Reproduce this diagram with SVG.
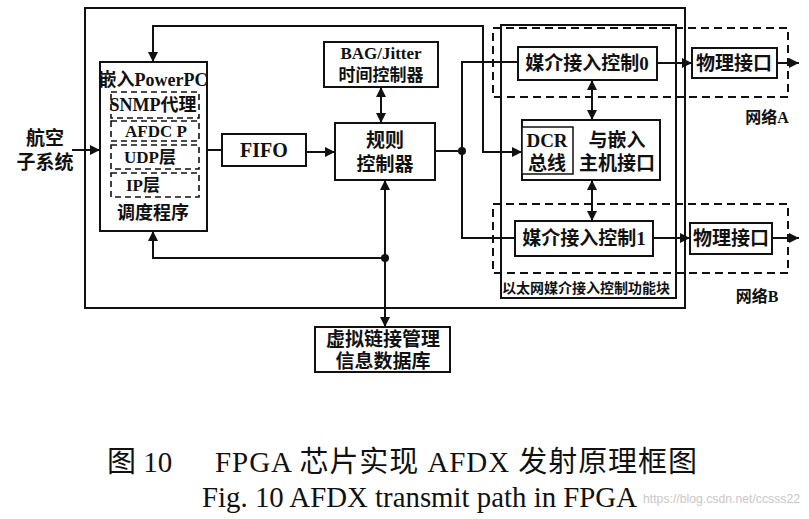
<svg xmlns="http://www.w3.org/2000/svg" width="809" height="519" viewBox="0 0 809 519">
<style>
.box{fill:#fff;stroke:#111;stroke-width:2}
.frame{fill:none;stroke:#111;stroke-width:2}
.dash{fill:none;stroke:#111;stroke-width:2;stroke-dasharray:8,5}
.ln{fill:none;stroke:#111;stroke-width:2}
.t{font-family:"Liberation Serif","Noto Sans CJK SC",serif;font-weight:bold;font-size:19px;fill:#111;text-anchor:middle;dominant-baseline:central}
.s{font-size:17px}
.cap{font-family:"Liberation Serif","Noto Sans CJK SC",serif;font-size:29px;fill:#111}
</style>
<defs>
<marker id="ah" viewBox="0 0 10 10" refX="10" refY="5" markerWidth="5" markerHeight="5" orient="auto-start-reverse">
<path d="M0,0 L10,5 L0,10 z" fill="#111"/>
</marker>
</defs>
<rect width="809" height="519" fill="#fff"/>

<g id="fpga-frame"><path class="frame" d="M85,8 H685 V308 H85 Z"/></g>
<g id="eth-block"><rect class="frame" x="501" y="25" width="175" height="273"/>
<text class="t" x="586" y="288" style="font-size:14px">以太网媒介接入控制功能块</text></g>
<g id="netA"><rect class="dash" x="493" y="28" width="295" height="69"/>
<text class="t" x="767" y="117" style="font-size:16px">网络A</text></g>
<g id="netB"><rect class="dash" x="493" y="204" width="295" height="69"/>
<text class="t" x="757" y="296" style="font-size:16px">网络B</text></g>

<g id="avionics"><text class="t" x="45" y="138">航空</text><text class="t" x="45" y="162">子系统</text></g>

<g id="powerpc">
<rect class="box" x="100" y="62" width="107" height="169"/>
<text class="t" x="153" y="80" style="font-size:18px">嵌入PowerPC</text>
<rect class="dash" x="111" y="92" width="88" height="26" style="stroke-width:1.6;stroke-dasharray:6,4"/>
<text class="t" x="153" y="105" style="font-size:18px">SNMP代理</text>
<rect class="dash" x="111" y="121" width="88" height="20" style="stroke-width:1.6;stroke-dasharray:6,4"/>
<text class="t" x="156" y="131" style="font-size:17px">AFDC P</text>
<rect class="dash" x="111" y="145" width="88" height="24" style="stroke-width:1.6;stroke-dasharray:6,4"/>
<text class="t" x="150" y="157" style="font-size:17px">UDP层</text>
<rect class="dash" x="111" y="173" width="88" height="24" style="stroke-width:1.6;stroke-dasharray:6,4"/>
<text class="t" x="143" y="185" style="font-size:17px">IP层</text>
<text class="t" x="153" y="213" style="font-size:18px">调度程序</text>
</g>

<g id="fifo"><rect class="box" x="222" y="134" width="84" height="32"/><text class="t" x="264" y="150" style="font-size:20px">FIFO</text></g>
<g id="rule"><rect class="box" x="335" y="123" width="100" height="57"/>
<text class="t" x="385" y="140">规则</text><text class="t" x="385" y="164">控制器</text></g>
<g id="bag"><rect class="box" x="324" y="42" width="114" height="45"/>
<text class="t s" x="381" y="53">BAG/Jitter</text><text class="t s" x="381" y="75">时间控制器</text></g>
<g id="db"><rect class="box" x="315" y="327" width="135" height="45"/>
<text class="t" x="383" y="339">虚拟链接管理</text><text class="t" x="383" y="361">信息数据库</text></g>

<g id="mac0"><rect class="box" x="518" y="47" width="139" height="33"/><text class="t" x="587" y="63">媒介接入控制0</text></g>
<g id="phyA"><rect class="box" x="692" y="48" width="85" height="30"/><text class="t" x="734" y="63">物理接口</text></g>
<g id="dcr"><rect class="box" x="522" y="120" width="138" height="60"/>
<rect class="box" x="522" y="127" width="51" height="47" style="stroke-width:1.5"/>
<text class="t" x="547" y="140">DCR</text><text class="t" x="547" y="163">总线</text>
<text class="t" x="617" y="140">与嵌入</text><text class="t" x="617" y="163">主机接口</text></g>
<g id="mac1"><rect class="box" x="515" y="221" width="138" height="35"/><text class="t" x="584" y="238">媒介接入控制1</text></g>
<g id="phyB"><rect class="box" x="690" y="223" width="82" height="31"/><text class="t" x="731" y="238">物理接口</text></g>

<g id="connectors">
<path class="ln" d="M72,150 H100" marker-end="url(#ah)"/>
<path class="ln" d="M207,150 H222"/>
<path class="ln" d="M306,152 H335" marker-end="url(#ah)"/>
<path class="ln" d="M153,62 V26 H483 V152 H522" marker-start="url(#ah)" marker-end="url(#ah)"/>
<path class="ln" d="M381,87 V123" marker-start="url(#ah)" marker-end="url(#ah)"/>
<path class="ln" d="M435,151 H462"/>
<path class="ln" d="M518,62 H462 V238 H515"/>
<circle cx="462" cy="151" r="4" fill="#111"/>
<path class="ln" d="M657,63 H692" marker-end="url(#ah)"/>
<path class="ln" d="M777,63 H799" marker-end="url(#ah)"/>
<path class="ln" d="M653,238 H690" marker-end="url(#ah)"/>
<path class="ln" d="M772,238 H799" marker-end="url(#ah)"/>
<path class="ln" d="M592,80 V120" marker-start="url(#ah)" marker-end="url(#ah)"/>
<path class="ln" d="M592,180 V221" marker-start="url(#ah)" marker-end="url(#ah)"/>
<path class="ln" d="M385,258 H153 V231" marker-end="url(#ah)"/>
<path class="ln" d="M385,258 V180" marker-end="url(#ah)"/>
<path class="ln" d="M385,258 V327" marker-end="url(#ah)"/>
<circle cx="385" cy="258" r="4" fill="#111"/>
</g>

<g id="caption">
<text class="cap" x="107" y="472">图 10</text>
<text class="cap" x="215" y="472" textLength="482" lengthAdjust="spacing">FPGA 芯片实现 AFDX 发射原理框图</text>
<text class="cap" x="202" y="507" textLength="435" lengthAdjust="spacingAndGlyphs">Fig. 10 AFDX transmit path in FPGA</text>
<text x="643" y="503" textLength="157" lengthAdjust="spacingAndGlyphs" style="font-family:'Liberation Sans',sans-serif;font-size:13px;fill:#c8c8c8">https://blog.csdn.net/ccsss22</text>
</g>
</svg>
